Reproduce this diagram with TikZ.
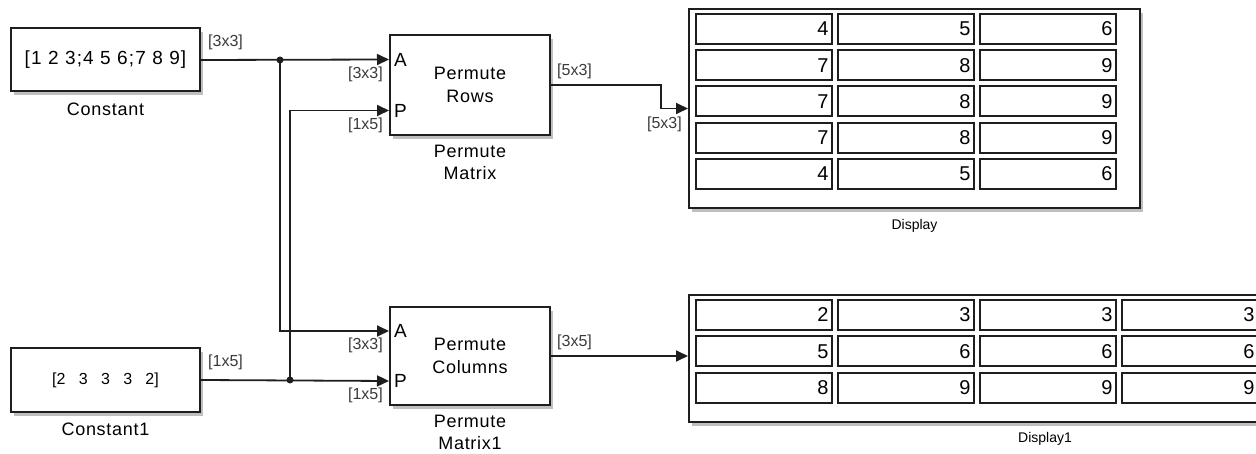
\documentclass[tikz,border=0pt]{standalone}
\usepackage{fontspec}
\setmainfont{Liberation Sans}
\usetikzlibrary{arrows.meta,calc,positioning,shadows}
\definecolor{ink}{HTML}{1E1E1E}
\definecolor{shade}{HTML}{808080}
\definecolor{dimtext}{HTML}{3A3A3A}

\begin{document}
\begin{tikzpicture}[
  x=1pt,
  y=-1pt,
  >={Triangle[length=12pt,width=11pt]},
  block/.style={draw=ink, line width=2pt, fill=white, inner sep=0pt,
                drop shadow={shadow xshift=3pt, shadow yshift=-4pt,
                             fill=shade, opacity=.5},
                font=\fontsize{18}{23}\selectfont\addfontfeature{LetterSpace=4},
                align=center},
  port/.style={font=\fontsize{19}{20}\selectfont, inner xsep=5pt, inner ysep=2pt, anchor=west},
  dim/.style={font=\fontsize{16}{17}\selectfont, text=dimtext, inner sep=1pt},
  caption/.style={font=\fontsize{18}{22}\selectfont\addfontfeature{LetterSpace=4},
                  align=center, inner sep=1pt},
  small/.style={font=\fontsize{14}{16}\selectfont, inner sep=1pt},
  cell/.style={draw=ink, line width=2pt, minimum height=30pt, text width=130pt,
               inner xsep=3pt, align=right, font=\fontsize{20}{22}\selectfont},
  sig/.style={->, line width=1.8pt, draw=ink},
  dot/.style={circle, fill=ink, inner sep=0pt, minimum size=7pt},
]

\clip (0,0) rectangle (1256,454);

% sources
\node[block, minimum width=189pt, minimum height=63pt,
      font=\fontsize{19}{23}\selectfont\addfontfeature{LetterSpace=6}] (const) at (105.5,60) {[1 2 3;4 5 6;7 8 9]};
\node[caption, below=9pt of const] {Constant};
\node[block, minimum width=189pt, minimum height=63pt,
      font=\fontsize{16}{18}\selectfont] (const1) at (105.5,380) {[2~~~3~~~3~~~3~~~2]};
\node[caption, below=9pt of const1] {Constant1};

% permute blocks
\node[block, minimum width=160pt, minimum height=100pt] (permrows) at (470,85) {Permute\\Rows};
\node[caption, below=8pt of permrows] {Permute\\Matrix};
\node[port] (rowsA) at ($(permrows.north west)!.25!(permrows.south west)$) {A};
\node[port] (rowsP) at ($(permrows.north west)!.75!(permrows.south west)$) {P};

\node[block, minimum width=160pt, minimum height=98pt] (permcols) at (470,356) {Permute\\Columns};
\node[caption, below=8pt of permcols] {Permute\\Matrix1};
\node[port] (colsA) at ($(permcols.north west)!.25!(permcols.south west)$) {A};
\node[port] (colsP) at ($(permcols.north west)!.75!(permcols.south west)$) {P};

% displays
\node[block, minimum width=451pt, minimum height=199pt] (disp) at (914.5,108.5) {};
\node[small, below=9pt of disp] {Display};
\foreach \a/\b/\c [count=\i from 0] in {4/5/6, 7/8/9, 7/8/9, 7/8/9, 4/5/6} {
  \node[cell] (disp-\i-a) at (763.5,{29+36.25*\i}) {\a};
  \node[cell] (disp-\i-b) at (905.5,{29+36.25*\i}) {\b};
  \node[cell] (disp-\i-c) at (1047.5,{29+36.25*\i}) {\c};
}

\node[block, minimum width=712pt, minimum height=127pt] (disp1) at (1045,358.5) {};
\node[small, below=8pt of disp1] {Display1};
\foreach \a/\b/\c/\d [count=\i from 0] in {2/3/3/3, 5/6/6/6, 8/9/9/9} {
  \node[cell] (disp1-\i-a) at (763.5,{315+36.25*\i}) {\a};
  \node[cell] (disp1-\i-b) at (905.5,{315+36.25*\i}) {\b};
  \node[cell] (disp1-\i-c) at (1047.5,{315+36.25*\i}) {\c};
  \node[cell] (disp1-\i-d) at (1189.5,{315+36.25*\i}) {\d};
}

% signal lines
\node[dot] (j1) at (280,60) {};
\node[dot] (j2) at (290,380) {};
\draw[sig] (const.east) -- (rowsA.west);
\draw[sig] (j1.center) |- (colsA.west);
\draw[sig] (const1.east) -- (colsP.west);
\draw[sig] (j2.center) |- (rowsP.west);
\draw[sig] (permrows.east) -- ++(110,0) |- (disp.west);
\draw[sig] (permcols.east) -- (permcols.east -| disp1.west);

% sizes
\node[dim, anchor=south west, xshift=6pt, yshift=9pt] at (const.east) {[3x3]};
\node[dim, anchor=south west, xshift=6pt, yshift=9pt] at (const1.east) {[1x5]};
\node[dim, anchor=north east, xshift=-5pt, yshift=-6pt] at (rowsA.west) {[3x3]};
\node[dim, anchor=north east, xshift=-5pt, yshift=-6pt] at (rowsP.west) {[1x5]};
\node[dim, anchor=north east, xshift=-5pt, yshift=-6pt] at (colsA.west) {[3x3]};
\node[dim, anchor=north east, xshift=-5pt, yshift=-6pt] at (colsP.west) {[1x5]};
\node[dim, anchor=south west, xshift=5pt, yshift=5pt] at (permrows.east) {[5x3]};
\node[dim, anchor=south west, xshift=5pt, yshift=5pt] at (permcols.east) {[3x5]};
\node[dim, anchor=north east, xshift=-5pt, yshift=-7pt] at (disp.west) {[5x3]};

\end{tikzpicture}
\end{document}
